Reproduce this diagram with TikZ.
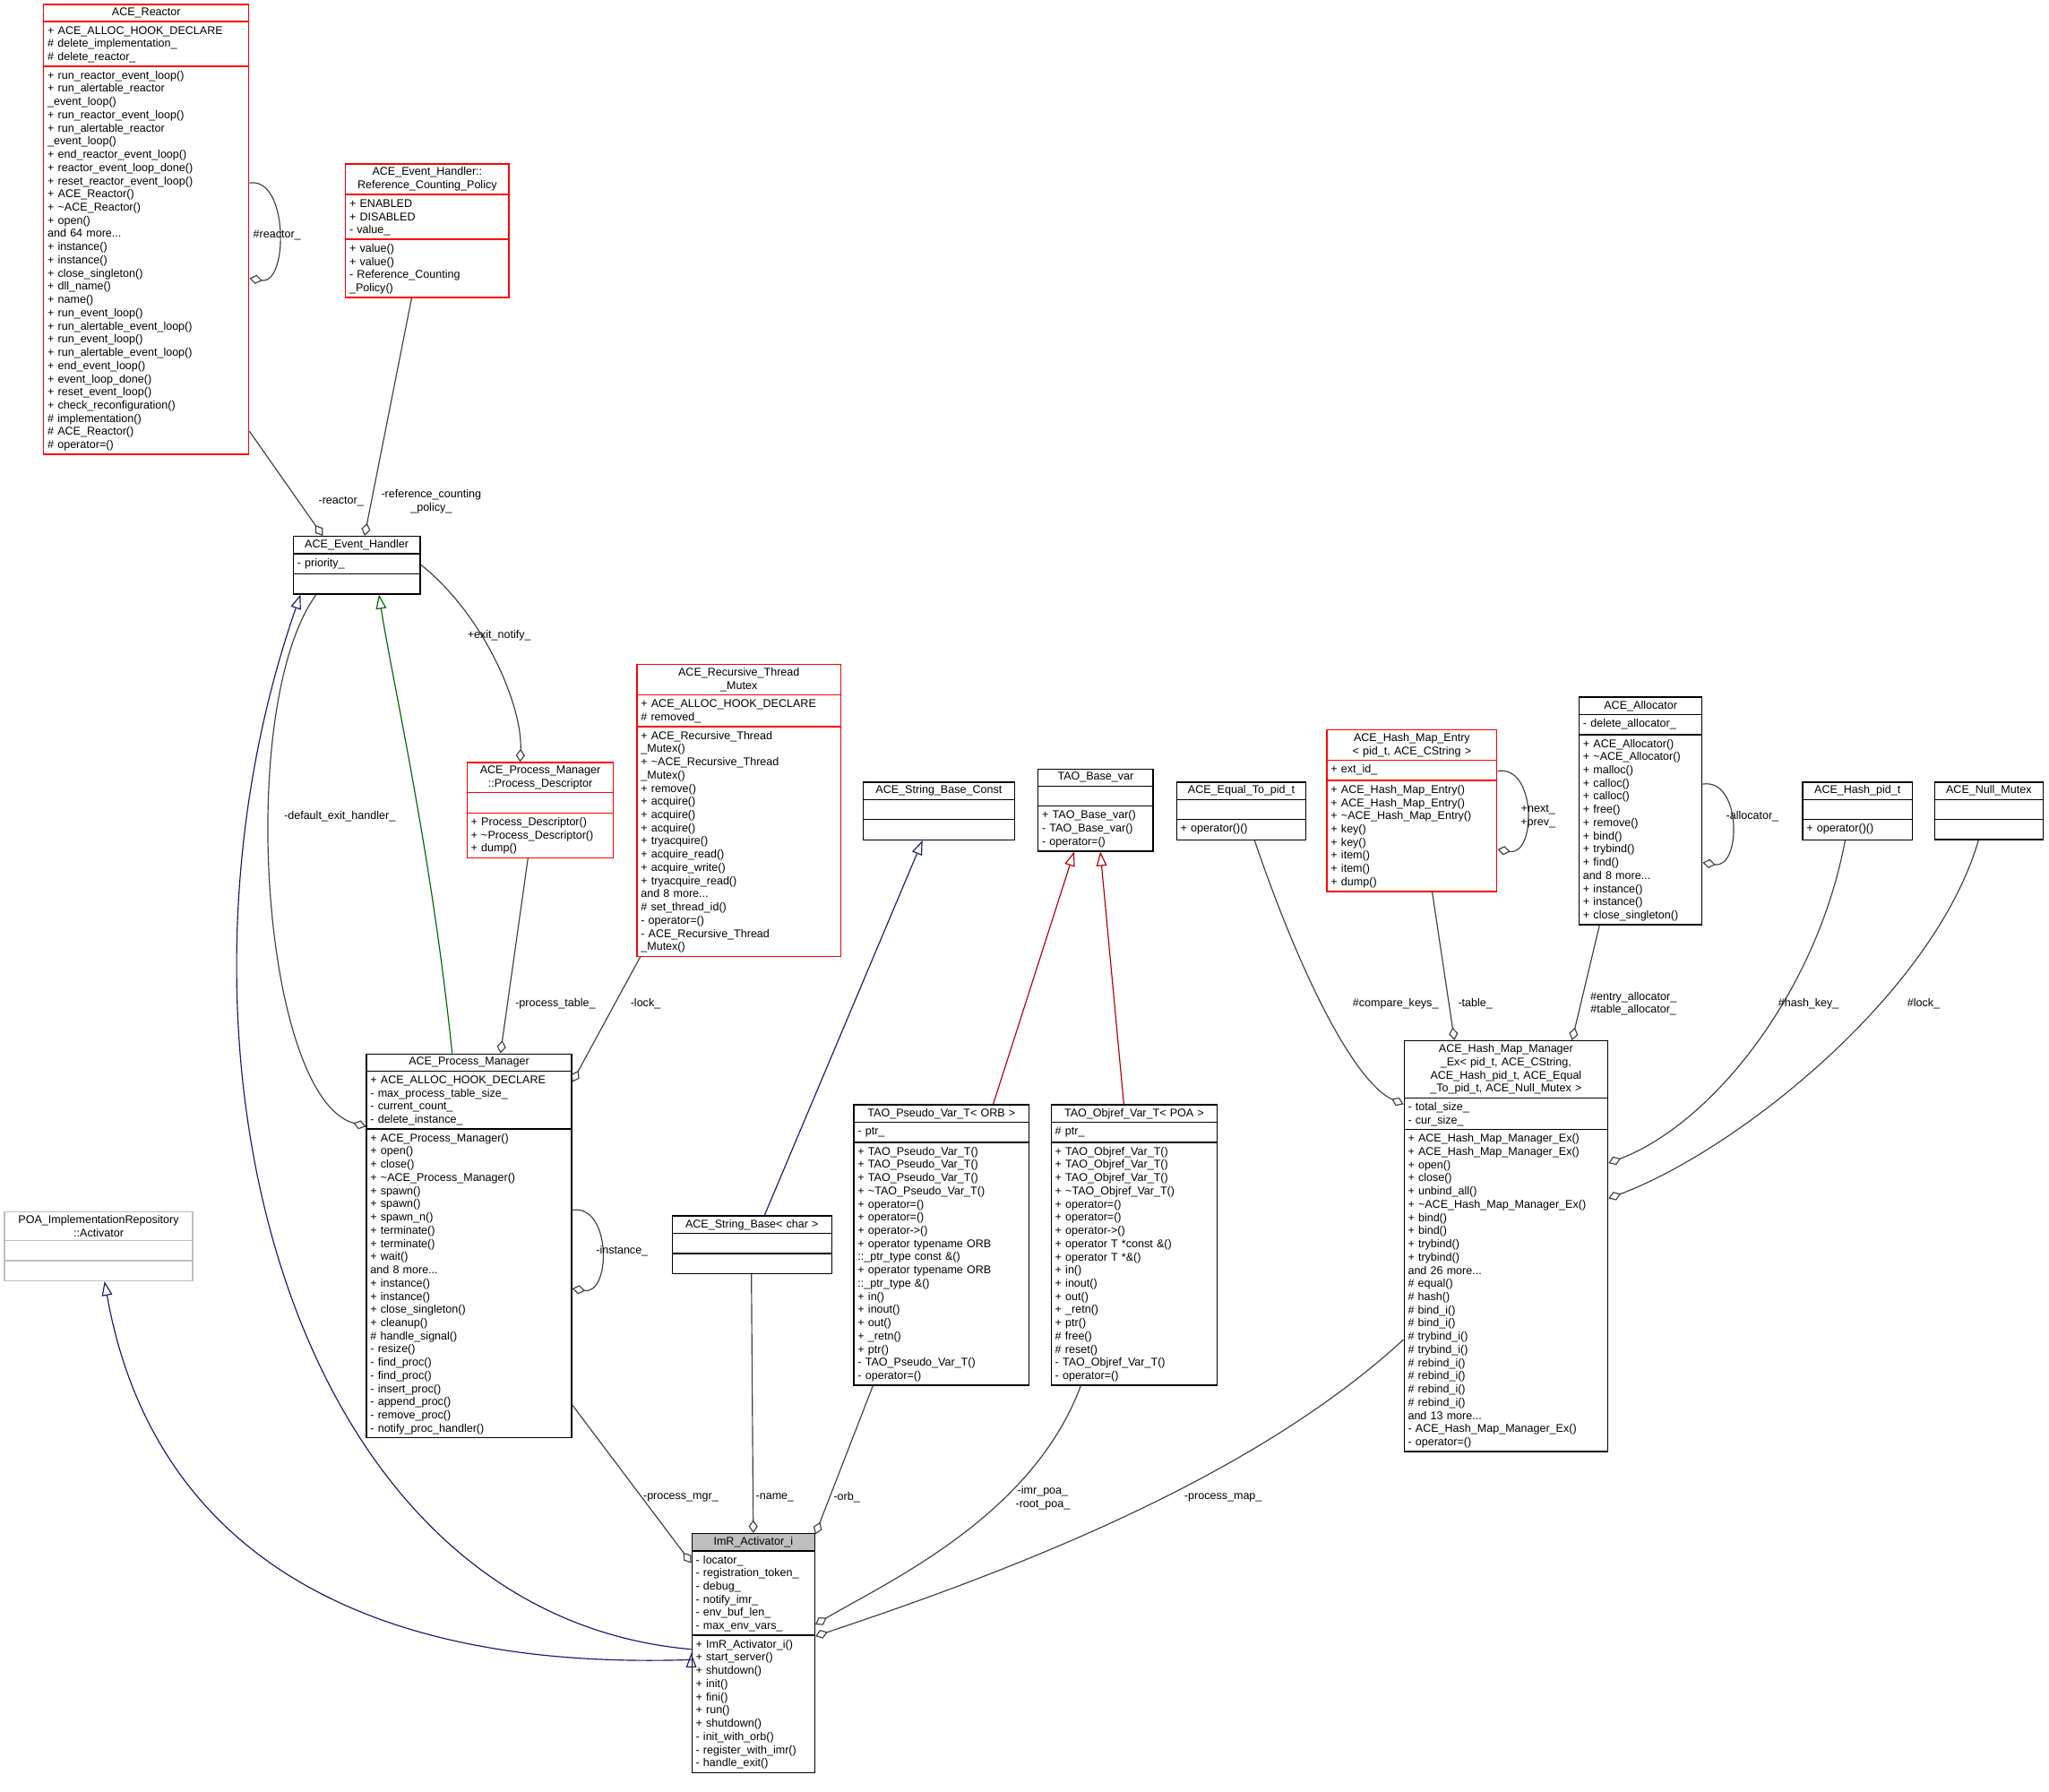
\documentclass[tikz,border=0pt]{standalone}
\usepackage{fontspec}
\setmainfont{Liberation Sans}
\usetikzlibrary{shapes.multipart,arrows.meta}
\definecolor{edgec}{HTML}{404040}
\definecolor{navyc}{HTML}{191970}
\definecolor{greenc}{HTML}{006400}
\definecolor{grayc}{HTML}{BFBFBF}
\tikzset{
 cls/.style={rectangle split, rectangle split parts=3, anchor=north west, inner xsep=3pt, inner ysep=2.2pt, line width=0.9pt, font=\fontsize{8.6}{10.1}\selectfont},
 agg/.style={draw=edgec, line width=0.8pt, -{Diamond[open,length=10pt,width=7pt]}},
 inh/.style={line width=0.8pt, -{Triangle[open,length=11pt,width=8pt]}},
 lbl/.style={font=\fontsize{8.6}{10.1}\selectfont, align=center, inner sep=0pt}
}
\newcommand{\cbox}[8]{\node[cls,draw=#5,text width=#4] (#1) at (#2,#3) {\centering #6\par\nodepart{two}\raggedright\strut #7\nodepart{three}\raggedright\strut #8};}
\begin{document}
\begin{tikzpicture}[x=1pt,y=-1pt]
\useasboundingbox (0,0) rectangle (1568,1371);
\cbox{R}{33}{3}{151pt}{red}{ACE\_Reactor}{+ ACE\_ALLOC\_HOOK\_DECLARE\\\# delete\_implementation\_\\\# delete\_reactor\_}{+ run\_reactor\_event\_loop()\\+ run\_alertable\_reactor\\\_event\_loop()\\+ run\_reactor\_event\_loop()\\+ run\_alertable\_reactor\\\_event\_loop()\\+ end\_reactor\_event\_loop()\\+ reactor\_event\_loop\_done()\\+ reset\_reactor\_event\_loop()\\+ ACE\_Reactor()\\+ \textasciitilde ACE\_Reactor()\\+ open()\\and 64 more...\\+ instance()\\+ instance()\\+ close\_singleton()\\+ dll\_name()\\+ name()\\+ run\_event\_loop()\\+ run\_alertable\_event\_loop()\\+ run\_event\_loop()\\+ run\_alertable\_event\_loop()\\+ end\_event\_loop()\\+ event\_loop\_done()\\+ reset\_event\_loop()\\+ check\_reconfiguration()\\\# implementation()\\\# ACE\_Reactor()\\\# operator=()}
\cbox{RCP}{264}{125}{119pt}{red}{ACE\_Event\_Handler::\\Reference\_Counting\_Policy}{+ ENABLED\\+ DISABLED\\- value\_}{+ value()\\+ value()\\- Reference\_Counting\\\_Policy()}
\cbox{EH}{224}{410}{91pt}{black}{ACE\_Event\_Handler}{- priority\_}{}
\cbox{RTM}{487}{508}{150pt}{red}{ACE\_Recursive\_Thread\\\_Mutex}{+ ACE\_ALLOC\_HOOK\_DECLARE\\\# removed\_}{+ ACE\_Recursive\_Thread\\\_Mutex()\\+ \textasciitilde ACE\_Recursive\_Thread\\\_Mutex()\\+ remove()\\+ acquire()\\+ acquire()\\+ acquire()\\+ tryacquire()\\+ acquire\_read()\\+ acquire\_write()\\+ tryacquire\_read()\\and 8 more...\\\# set\_thread\_id()\\- operator=()\\- ACE\_Recursive\_Thread\\\_Mutex()}
\cbox{PD}{357}{583}{106pt}{red}{ACE\_Process\_Manager\\::Process\_Descriptor}{}{+ Process\_Descriptor()\\+ \textasciitilde Process\_Descriptor()\\+ dump()}
\cbox{PM}{280}{806}{151pt}{black}{ACE\_Process\_Manager}{+ ACE\_ALLOC\_HOOK\_DECLARE\\- max\_process\_table\_size\_\\- current\_count\_\\- delete\_instance\_}{+ ACE\_Process\_Manager()\\+ open()\\+ close()\\+ \textasciitilde ACE\_Process\_Manager()\\+ spawn()\\+ spawn()\\+ spawn\_n()\\+ terminate()\\+ terminate()\\+ wait()\\and 8 more...\\+ instance()\\+ instance()\\+ close\_singleton()\\+ cleanup()\\\# handle\_signal()\\- resize()\\- find\_proc()\\- find\_proc()\\- insert\_proc()\\- append\_proc()\\- remove\_proc()\\- notify\_proc\_handler()}
\cbox{SBC}{660}{598}{110pt}{black}{ACE\_String\_Base\_Const}{}{}
\cbox{TBV}{794}{588}{82pt}{black}{TAO\_Base\_var}{}{+ TAO\_Base\_var()\\- TAO\_Base\_var()\\- operator=()}
\cbox{EQ}{900}{598}{93pt}{black}{ACE\_Equal\_To\_pid\_t}{}{+ operator()()}
\cbox{ENT}{1015}{558}{124pt}{red}{ACE\_Hash\_Map\_Entry\\< pid\_t, ACE\_CString >}{+ ext\_id\_}{+ ACE\_Hash\_Map\_Entry()\\+ ACE\_Hash\_Map\_Entry()\\+ \textasciitilde ACE\_Hash\_Map\_Entry()\\+ key()\\+ key()\\+ item()\\+ item()\\+ dump()}
\cbox{AL}{1208}{533}{88pt}{black}{ACE\_Allocator}{- delete\_allocator\_}{+ ACE\_Allocator()\\+ \textasciitilde ACE\_Allocator()\\+ malloc()\\+ calloc()\\+ calloc()\\+ free()\\+ remove()\\+ bind()\\+ trybind()\\+ find()\\and 8 more...\\+ instance()\\+ instance()\\+ close\_singleton()}
\cbox{HP}{1379}{598}{78pt}{black}{ACE\_Hash\_pid\_t}{}{+ operator()()}
\cbox{NM}{1480}{598}{77pt}{black}{ACE\_Null\_Mutex}{}{}
\cbox{HMM}{1074}{796}{150pt}{black}{ACE\_Hash\_Map\_Manager\\\_Ex< pid\_t, ACE\_CString,\\ ACE\_Hash\_pid\_t, ACE\_Equal\\\_To\_pid\_t, ACE\_Null\_Mutex >}{- total\_size\_\\- cur\_size\_}{+ ACE\_Hash\_Map\_Manager\_Ex()\\+ ACE\_Hash\_Map\_Manager\_Ex()\\+ open()\\+ close()\\+ unbind\_all()\\+ \textasciitilde ACE\_Hash\_Map\_Manager\_Ex()\\+ bind()\\+ bind()\\+ trybind()\\+ trybind()\\and 26 more...\\\# equal()\\\# hash()\\\# bind\_i()\\\# bind\_i()\\\# trybind\_i()\\\# trybind\_i()\\\# rebind\_i()\\\# rebind\_i()\\\# rebind\_i()\\\# rebind\_i()\\and 13 more...\\- ACE\_Hash\_Map\_Manager\_Ex()\\- operator=()}
\cbox{PS}{653}{845}{128pt}{black}{TAO\_Pseudo\_Var\_T< ORB >}{- ptr\_}{+ TAO\_Pseudo\_Var\_T()\\+ TAO\_Pseudo\_Var\_T()\\+ TAO\_Pseudo\_Var\_T()\\+ \textasciitilde TAO\_Pseudo\_Var\_T()\\+ operator=()\\+ operator=()\\+ operator->()\\+ operator typename ORB\\::\_ptr\_type const \&()\\+ operator typename ORB\\::\_ptr\_type \&()\\+ in()\\+ inout()\\+ out()\\+ \_retn()\\+ ptr()\\- TAO\_Pseudo\_Var\_T()\\- operator=()}
\cbox{OV}{804}{845}{121pt}{black}{TAO\_Objref\_Var\_T< POA >}{\# ptr\_}{+ TAO\_Objref\_Var\_T()\\+ TAO\_Objref\_Var\_T()\\+ TAO\_Objref\_Var\_T()\\+ \textasciitilde TAO\_Objref\_Var\_T()\\+ operator=()\\+ operator=()\\+ operator->()\\+ operator T *const \&()\\+ operator T *\&()\\+ in()\\+ inout()\\+ out()\\+ \_retn()\\+ ptr()\\\# free()\\\# reset()\\- TAO\_Objref\_Var\_T()\\- operator=()}
\cbox{SB}{514}{930}{116pt}{black}{ACE\_String\_Base< char >}{}{}
\cbox{POA}{3}{927}{138pt}{grayc}{POA\_ImplementationRepository\\::Activator}{}{}
\node[cls,draw=black,text width=88pt,rectangle split part fill={grayc,white,white}] (IMR) at (529,1173) {\centering ImR\_Activator\_i\par\nodepart{two}\raggedright\strut - locator\_\\- registration\_token\_\\- debug\_\\- notify\_imr\_\\- env\_buf\_len\_\\- max\_env\_vars\_\nodepart{three}\raggedright\strut + ImR\_Activator\_i()\\+ start\_server()\\+ shutdown()\\+ init()\\+ fini()\\+ run()\\+ shutdown()\\- init\_with\_orb()\\- register\_with\_imr()\\- handle\_exit()};
% inheritance
\draw[inh,draw=navyc] (IMR.west) ++(0,0) coordinate (imrw);
\draw[inh,draw=navyc] ([yshift=-89]IMR.north west) .. controls (220,1235) and (110,800) .. ([xshift=6]EH.south west);
\draw[inh,draw=navyc] ([yshift=-97]IMR.north west) .. controls (230,1280) and (110,1150) .. ([xshift=77]POA.south west);
\draw[inh,draw=greenc] ([xshift=66]PM.north west) .. controls (330,650) and (300,520) .. ([xshift=66]EH.south west);
\draw[inh,draw=navyc] ([xshift=71]SB.north west) -- ([xshift=46]SBC.south west);
\draw[inh,draw=red!70!black] ([xshift=107]PS.north west) -- ([xshift=28]TBV.south west);
\draw[inh,draw=red!70!black] ([xshift=56]OV.north west) -- ([xshift=48]TBV.south west);
% aggregations
\draw[agg] ([yshift=-137]R.north east) .. controls +(30,-5) and +(30,5) .. ([yshift=-210]R.north east);
\node[lbl] (l1) at (212,180) {\#reactor\_};
\draw[agg] ([yshift=-327]R.north east) -- ([xshift=23]EH.north west);
\node[lbl] (l2) at (261,384) {-reactor\_};
\draw[agg] ([xshift=51]RCP.south west) -- ([xshift=55]EH.north west);
\node[lbl] (l3) at (330,384) {-reference\_counting\\\_policy\_};
\draw[agg] ([yshift=-22]EH.north east) .. controls (370,470) and (400,540) .. ([xshift=41]PD.north west);
\node[lbl] (l4) at (382,486) {+exit\_notify\_};
\draw[agg] ([xshift=18]EH.south west) .. controls (180,540) and (200,840) .. ([yshift=-56]PM.north west);
\node[lbl] (l5) at (260,625) {-default\_exit\_handler\_};
\draw[agg] ([xshift=47]PD.south west) -- ([xshift=103]PM.north west);
\node[lbl] (l6) at (425,768) {-process\_table\_};
\draw[agg] ([xshift=3]RTM.south west) -- ([yshift=-22]PM.north east);
\node[lbl] (l7) at (494,768) {-lock\_};
\draw[agg] ([yshift=-120]PM.north east) .. controls +(30,-5) and +(30,5) .. ([yshift=-180]PM.north east);
\node[lbl] (l8) at (476,957) {-instance\_};
\draw[agg] ([yshift=-269]PM.north east) -- ([yshift=-23]IMR.north west);
\node[lbl] (l9) at (521,1146) {-process\_mgr\_};
\draw[agg] ([xshift=61]SB.south west) -- (IMR.north);
\node[lbl] (l10) at (593,1146) {-name\_};
\draw[agg] ([xshift=15]PS.south west) -- ([yshift=-1]IMR.north east);
\node[lbl] (l11) at (648,1146) {-orb\_};
\draw[agg] ([xshift=23]OV.south west) .. controls (790,1160) and (680,1210) .. ([yshift=-70]IMR.north east);
\node[lbl] (l12) at (798,1146) {-imr\_poa\_\\-root\_poa\_};
\draw[agg] ([yshift=-229]HMM.north west) .. controls (960,1130) and (780,1200) .. ([yshift=-79]IMR.north east);
\node[lbl] (l13) at (936,1146) {-process\_map\_};
\draw[agg] ([xshift=60]EQ.south west) .. controls (1000,760) and (1040,830) .. ([yshift=-49]HMM.north west);
\node[lbl] (l14) at (1068,768) {\#compare\_keys\_};
\draw[agg] ([xshift=81]ENT.south west) -- ([xshift=39]HMM.north west);
\node[lbl] (l15) at (1129,768) {-table\_};
\draw[agg] ([yshift=-32]ENT.north east) .. controls +(30,-5) and +(30,5) .. ([yshift=-92]ENT.north east);
\node[lbl] (l16) at (1177,625) {+next\_\\+prev\_};
\draw[agg] ([xshift=16]AL.south west) -- ([xshift=129]HMM.north west);
\node[lbl] (l17) at (1250,768) {\#entry\_allocator\_\\\#table\_allocator\_};
\draw[agg] ([yshift=-67]AL.north east) .. controls +(30,-5) and +(30,5) .. ([yshift=-127]AL.north east);
\node[lbl] (l18) at (1341,625) {-allocator\_};
\draw[agg] ([xshift=33]HP.south west) .. controls (1390,760) and (1310,860) .. ([yshift=-94]HMM.north east);
\node[lbl] (l19) at (1384,768) {\#hash\_key\_};
\draw[agg] ([xshift=34]NM.south west) .. controls (1480,760) and (1330,880) .. ([yshift=-121]HMM.north east);
\node[lbl] (l20) at (1472,768) {\#lock\_};
\end{tikzpicture}
\end{document}
